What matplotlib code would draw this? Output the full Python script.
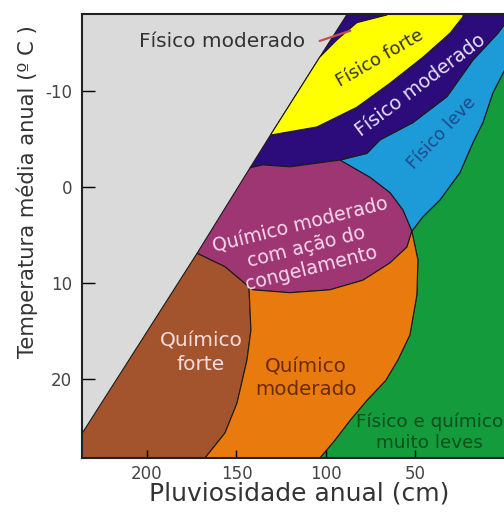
import matplotlib.pyplot as plt
from matplotlib.patches import Polygon

plt.rcParams['axes.unicode_minus'] = False

# pontos: (pluviosidade anual cm, temperatura media anual C)
# borda do campo cinza (de baixo para cima)
edge_gray = [(251.2, 30.0), (172.0, 6.9), (142.4, -2.0), (131.0, -5.4), (103.5, -13.5), (81.2, -20.0)]
# limite externo da faixa "fisico moderado"
navy_out = [(142.4, -2.0), (135.2, -2.3), (120.1, -2.1), (92.2, -2.8), (77.1, -3.5), (69.8, -4.9),
            (51.4, -6.7), (32.4, -9.4), (17.9, -13.2), (3.9, -16.0), (-5.6, -18.4), (-9.0, -20.0)]
# "fisico forte": borda inferior e superior
forte_low = [(131.0, -5.4), (105.0, -6.25), (82.7, -8.3), (64.2, -10.8), (45.8, -13.5),
             (30.7, -16.0), (23.5, -17.7), (21.8, -20.0)]
forte_up = [(103.5, -13.5), (93.9, -15.3), (82.7, -17.1), (65.9, -17.9), (65.0, -20.0)]
# fisico leve / muito leves
leve_green = [(-3.0, -13.2), (0.6, -12.0), (6.7, -9.8), (12.3, -6.7), (17.9, -4.6), (25.1, -1.5),
              (36.3, 1.35), (45.8, 3.1), (52.0, 4.6)]
# fisico leve / congelamento
leve_congel = [(92.2, -2.8), (75.4, -1.0), (64.2, 0.6), (57.0, 2.4), (52.0, 4.6)]
# congelamento / quimico moderado
congel_mod = [(52.0, 4.6), (54.7, 6.25), (64.2, 7.9), (79.3, 9.7), (97.8, 10.7), (120.1, 11.0),
              (140.8, 10.7), (143.0, 10.4)]
# congelamento / quimico forte
congel_forte = [(143.0, 10.4), (156.4, 8.3), (172.0, 6.9)]
# quimico forte / quimico moderado
forte_mod = [(143.0, 10.4), (141.9, 14.9), (144.1, 18.0), (149.7, 22.5), (156.4, 25.6),
             (167.6, 28.2), (171.0, 30.0)]
# quimico moderado / muito leves
mod_leves = [(52.0, 4.6), (48.6, 7.6), (49.2, 11.25), (53.1, 15.4), (59.8, 18.0), (66.5, 20.1),
             (77.1, 22.2), (86.6, 24.3), (95.0, 26.35), (103.4, 28.2), (108.5, 30.0)]

x_ticks = [200, 150, 100, 50]
y_ticks = [-10, 0, 10, 20]

rev = lambda pts: pts[::-1]

regions = [
    ('verde', leve_green + mod_leves[1:] + [(-12, 30), (-12, -13.2)], '#139b3c'),
    ('azul', navy_out[3:] + [(-12, -20), (-12, -13.2)] + leve_green + rev(leve_congel)[1:], '#1d9ad8'),
    ('anil', edge_gray[2:] + rev(navy_out), '#2c0c7a'),
    ('amarelo', forte_low + rev(forte_up), '#ffff00'),
    ('magenta', navy_out[:4] + leve_congel[1:] + congel_mod[1:] + congel_forte[1:], '#9d3673'),
    ('marrom', edge_gray[:2] + rev(congel_forte)[1:] + forte_mod[1:], '#a3542c'),
    ('laranja', mod_leves + rev(forte_mod) + rev(congel_mod)[1:], '#e97b0e'),
]

fig = plt.figure(figsize=(5.04, 5.20), dpi=100)
ax = fig.add_axes([82 / 504, 1 - 458 / 520, 1 - 82 / 504, (458 - 14) / 520])
ax.set_facecolor('#dadada')

for name, pts, col in regions:
    ax.add_patch(Polygon(pts, closed=True, facecolor=col, edgecolor='#1a1a1a', lw=0.8))

ax.set_xlim(236.3, 0.5)
ax.set_ylim(28.2, -18.0)

# rotulos
ax.text(158, -15.1, 'Físico moderado', fontsize=14.5, color='#333333', ha='center', va='center')
ax.annotate('', xy=(84.9, -16.35), xytext=(105.0, -15.1),
            arrowprops=dict(arrowstyle='-', color='#c0504d', lw=1.6))
ax.text(69.8, -13.4, 'Físico forte', fontsize=12.8, color='#333333', rotation=30,
        ha='center', va='center', rotation_mode='anchor')
ax.text(46.9, -10.6, 'Físico moderado', fontsize=13.8, color='#e6defa', rotation=37,
        ha='center', va='center', rotation_mode='anchor')
ax.text(35.2, -5.6, 'Físico leve', fontsize=12.6, color='#1e4a8c', rotation=47,
        ha='center', va='center', rotation_mode='anchor')
ax.text(111.2, 6.25, 'Químico moderado\ncom ação do\ncongelamento', fontsize=13.6,
        color='#f8d8ee', rotation=14, ha='center', va='center', rotation_mode='anchor',
        linespacing=1.2, multialignment='center')
ax.text(169.8, 17.3, 'Químico\nforte', fontsize=14.5, color='#f4dcdc', ha='center',
        va='center', linespacing=1.3)
ax.text(111.2, 19.9, 'Químico\nmoderado', fontsize=14.3, color='#6a2a00', ha='center',
        va='center', linespacing=1.2)
ax.text(41.9, 25.5, 'Físico e químico\nmuito leves', fontsize=13.2, color='#0b4f1c',
        ha='center', va='center', linespacing=1.2)

ax.set_xticks(x_ticks)
ax.set_yticks(y_ticks)
ax.tick_params(axis='y', direction='in', length=9, width=1, pad=7, labelsize=12, labelcolor='#444444')
ax.tick_params(axis='x', direction='in', length=6, width=1, pad=5, labelsize=12, labelcolor='#444444')
for s in ax.spines.values():
    s.set_linewidth(1.5)
    s.set_color('#222222')
ax.spines['right'].set_visible(False)

ax.set_xlabel('Pluviosidade anual (cm)', fontsize=18, color='#333333')
ax.xaxis.set_label_coords(0.514, -0.052)
ax.set_ylabel('Temperatura média anual (º C )', fontsize=15.2, color='#333333')
ax.yaxis.set_label_coords(-0.104, 0.599)

fig.savefig('out.png', dpi=100)
